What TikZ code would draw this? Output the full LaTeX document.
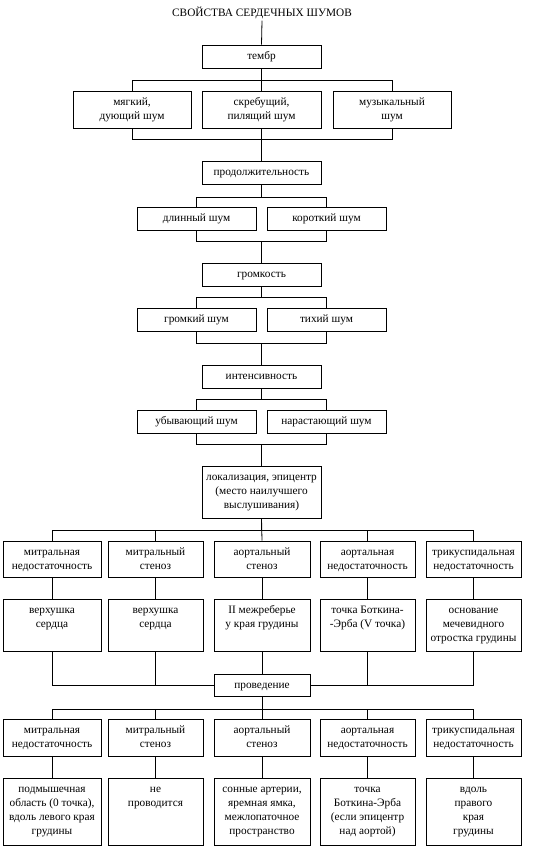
\documentclass[tikz,border=0pt]{standalone}
\usepackage{fontspec}
\setmainfont{Liberation Serif}
\usetikzlibrary{calc}
\newcommand\topbox[3]{\parbox[c][#2pt][t]{#1pt}{\centering\rule{0pt}{14.5pt}#3}}
\newcommand\bxfont{\fontsize{11.3}{14}\selectfont}
\begin{document}
\begin{tikzpicture}[x=1pt,y=-1pt,
  tb/.style={draw, line width=0.8pt, inner sep=0pt, font=\bxfont},
  ln/.style={line width=0.8pt}]
\useasboundingbox[fill=white] (0,0) rectangle (546,846);
% title
\node[font=\bxfont, inner sep=2pt] (title) at (262,12.5) {СВОЙСТВА СЕРДЕЧНЫХ ШУМОВ};
% timbre
\node[tb] (timbre) at (261.5,56.5) {\topbox{119}{23}{тембр}};
\node[tb] (ra) at (132,109.5) {\topbox{118}{37}{мягкий,\\дующий шум}};
\node[tb] (rb) at (261.5,109.5) {\topbox{119}{37}{скребущий,\\пилящий шум}};
\node[tb] (rc) at (392,109.5) {\topbox{118}{37}{музыкальный\\шум}};
% duration
\node[tb] (dur) at (261.5,172.5) {\topbox{119}{23}{продолжительность}};
\node[tb] (dura) at (196.5,218.5) {\topbox{119}{23}{длинный шум}};
\node[tb] (durb) at (326.5,218.5) {\topbox{119}{23}{короткий шум}};
% loudness
\node[tb] (loud) at (261.5,274.5) {\topbox{119}{23}{громкость}};
\node[tb] (louda) at (196.5,319.5) {\topbox{119}{23}{громкий шум}};
\node[tb] (loudb) at (326.5,319.5) {\topbox{119}{23}{тихий шум}};
% intensity
\node[tb] (inten) at (261.5,376.5) {\topbox{119}{23}{интенсивность}};
\node[tb] (intena) at (196.5,421.5) {\topbox{119}{23}{убывающий шум}};
\node[tb] (intenb) at (326.5,421.5) {\topbox{119}{23}{нарастающий шум}};
% localization
\node[tb] (loc) at (261.5,492) {\topbox{119}{52}{локализация, эпицентр\\(место наилучшего\\выслушивания)}};
% row A
\node[tb] (a1) at (52,559) {\topbox{98}{36}{митральная\\недостаточность}};
\node[tb] (a2) at (155.5,559) {\topbox{95}{36}{митральный\\стеноз}};
\node[tb] (a3) at (262,559) {\topbox{96}{36}{аортальный\\стеноз}};
\node[tb] (a4) at (367.5,559) {\topbox{95}{36}{аортальная\\недостаточность}};
\node[tb] (a5) at (473.5,559) {\topbox{95}{36}{трикуспидальная\\недостаточность}};
% row B
\node[tb] (b1) at (52,625) {\topbox{98}{52}{верхушка\\сердца}};
\node[tb] (b2) at (155.5,625) {\topbox{95}{52}{верхушка\\сердца}};
\node[tb] (b3) at (262,625) {\topbox{96}{52}{II межреберье\\у края грудины}};
\node[tb] (b4) at (367.5,625) {\topbox{95}{52}{точка Боткина-\\-Эрба (V точка)}};
\node[tb] (b5) at (473.5,625) {\topbox{95}{52}{основание\\мечевидного\\отростка грудины}};
% conduction
\node[tb] (cond) at (262,685) {\topbox{96}{22}{проведение}};
% row C
\node[tb] (c1) at (52,737.5) {\topbox{98}{37}{митральная\\недостаточность}};
\node[tb] (c2) at (155.5,737.5) {\topbox{95}{37}{митральный\\стеноз}};
\node[tb] (c3) at (262,737.5) {\topbox{96}{37}{аортальный\\стеноз}};
\node[tb] (c4) at (367.5,737.5) {\topbox{95}{37}{аортальная\\недостаточность}};
\node[tb] (c5) at (473.5,737.5) {\topbox{95}{37}{трикуспидальная\\недостаточность}};
% row D
\node[tb] (d1) at (52,811.5) {\topbox{98}{67}{подмышечная\\область (0 точка),\\вдоль левого края\\грудины}};
\node[tb] (d2) at (155.5,811.5) {\topbox{95}{67}{не\\проводится}};
\node[tb] (d3) at (262,811.5) {\topbox{96}{67}{сонные артерии,\\яремная ямка,\\межлопаточное\\пространство}};
\node[tb] (d4) at (367.5,811.5) {\topbox{95}{67}{точка\\Боткина-Эрба\\(если эпицентр\\над аортой)}};
\node[tb] (d5) at (473.5,811.5) {\topbox{95}{67}{вдоль\\правого\\края\\грудины}};
% connectors
\draw[ln] (title.south) -- (timbre.north);
\draw[ln] (timbre.south) -- ++(0,12) -| (ra.north);
\draw[ln] (timbre.south) -- ++(0,12) -| (rc.north);
\draw[ln] (timbre.south) -- (rb.north);
\draw[ln] (ra.south) -- ++(0,11) -| (dur.north);
\draw[ln] (rc.south) -- ++(0,11) -| (dur.north);
\draw[ln] (rb.south) -- (dur.north);
\draw[ln] (dur.south) -- ++(0,13) -| (dura.north);
\draw[ln] (dur.south) -- ++(0,13) -| (durb.north);
\draw[ln] (dura.south) -- ++(0,11) -| (loud.north);
\draw[ln] (durb.south) -- ++(0,11) -| (loud.north);
\draw[ln] (loud.south) -- ++(0,11) -| (louda.north);
\draw[ln] (loud.south) -- ++(0,11) -| (loudb.north);
\draw[ln] (louda.south) -- ++(0,12) -| (inten.north);
\draw[ln] (loudb.south) -- ++(0,12) -| (inten.north);
\draw[ln] (inten.south) -- ++(0,11) -| (intena.north);
\draw[ln] (inten.south) -- ++(0,11) -| (intenb.north);
\draw[ln] (intena.south) -- ++(0,11) -| (loc.north);
\draw[ln] (intenb.south) -- ++(0,11) -| (loc.north);
\draw[ln] (loc.south) -- ++(0,12) -| (a1.north);
\draw[ln] (loc.south) -- ++(0,12) -| (a2.north);
\draw[ln] (loc.south) -- ++(0,12) -| (a4.north);
\draw[ln] (loc.south) -- ++(0,12) -| (a5.north);
\draw[ln] (loc.south) -- (a3.north);
\foreach \i in {1,...,5} {
  \draw[ln] (a\i.south) -- (b\i.north);
  \draw[ln] (c\i.south) -- (d\i.north);
}
\draw[ln] (b1.south) |- (cond.west);
\draw[ln] (b5.south) |- (cond.east);
\draw[ln] (b2.south) -- (b2.south |- cond.west);
\draw[ln] (b4.south) -- (b4.south |- cond.east);
\draw[ln] (b3.south) -- (cond.north);
\draw[ln] (cond.south) -- ++(0,13) -| (c1.north);
\draw[ln] (cond.south) -- ++(0,13) -| (c2.north);
\draw[ln] (cond.south) -- ++(0,13) -| (c4.north);
\draw[ln] (cond.south) -- ++(0,13) -| (c5.north);
\draw[ln] (cond.south) -- (c3.north);
\end{tikzpicture}
\end{document}
